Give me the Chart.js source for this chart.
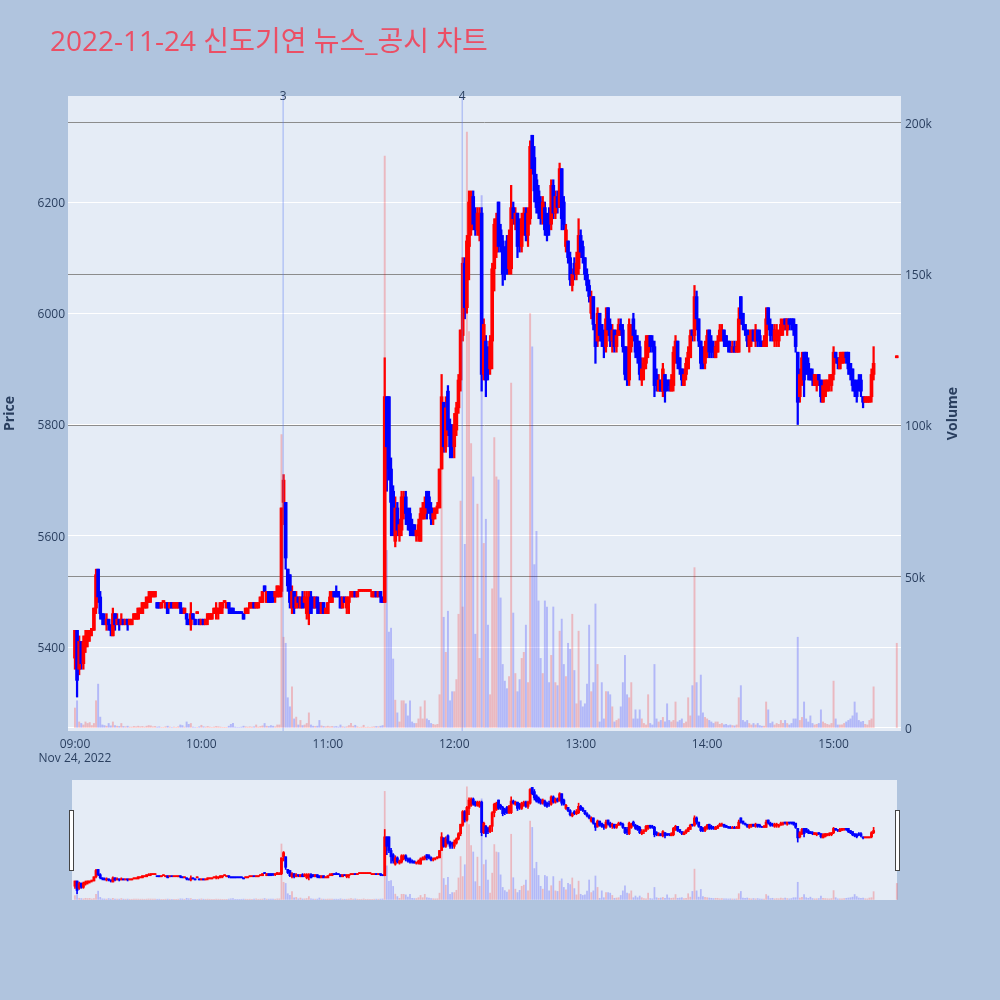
<!DOCTYPE html>
<html><head><meta charset="utf-8">
<script src="https://cdn.jsdelivr.net/npm/chart.js@4.4.0/dist/chart.umd.min.js"></script>
<style>
html,body{margin:0;padding:0;background:#b0c4de;}
#wrap{position:relative;width:1000px;height:1000px;overflow:hidden;}
#main{position:absolute;left:0;top:0;}
#mini{position:absolute;left:68px;top:780px;}
</style></head><body>
<div id="wrap"><canvas id="main" width="1000" height="1000"></canvas><canvas id="mini" width="833" height="120"></canvas></div>
<script>
const chartTitle = '2022-11-24 신도기연 뉴스_공시 차트';
const hourTicks = [0, 60, 120, 180, 240, 300, 360];           // minutes after 09:00
const hourLabels = [['09:00', 'Nov 24, 2022'], '10:00', '11:00', '12:00', '13:00', '14:00', '15:00'];
const priceTicks = [5400, 5600, 5800, 6000, 6200];
const volumeTicks = [0, 50000, 100000, 150000, 200000];
const volumeTickLabels = ['0', '50k', '100k', '150k', '200k'];
const eventTimes = ['10:38:48', '12:03:48'];
const eventLabels = ['3', '4'];

// one candle per minute, index = minutes after 09:00 (null = no trade)
const opens = [
5380,5430,5360,5410,5370,5400,5410,5420,5430,5430,
5470,5540,5490,5460,5450,5440,5450,5440,5420,5460,
5440,5450,5440,5450,5440,5450,5440,5440,5450,5450,
5450,5460,5460,5470,5470,5480,5490,5490,5490,5480,
5480,5470,5480,5470,5480,5470,5480,5470,5470,5470,
5480,5470,5460,5460,5450,5440,5460,5450,5460,5450,
5440,5450,5440,5450,5450,5450,5460,5460,5460,5460,
5470,5480,5470,5480,5470,5470,5460,5460,5460,5460,
5460,5460,5460,5470,5470,5480,5470,5470,5480,5480,
5510,5480,5500,5500,5500,5490,5490,5490,5500,5660,
5660,5540,5530,5470,5500,5470,5490,5470,5490,5480,
5460,5470,5490,5490,5470,5490,5480,5460,5480,5460,
5460,5480,5480,5500,5500,5500,5490,5470,5490,5470,
5480,5490,5490,5500,5490,5500,5500,5500,5500,5500,
5500,5490,5490,5500,5490,5500,5490,5480,5850,5850,
5720,5680,5590,5650,5600,5610,5640,5670,5640,5640,
5620,5620,5600,5600,5590,5630,5640,5680,5670,5650,
5630,5640,5650,5650,5720,5840,5760,5860,5800,5790,
5760,5790,5830,5880,5960,6090,6010,6120,6150,6210,
6180,6150,6140,6180,5890,5950,5930,5900,5950,6080,
6110,6200,6150,6130,6110,6130,6080,6080,6190,6160,
6180,6160,6120,6150,6180,6140,6170,6320,6280,6240,
6220,6200,6170,6190,6170,6170,6160,6230,6180,6210,
6190,6260,6200,6120,6130,6100,6050,6090,6070,6080,
6140,6120,6100,6070,6050,6000,6030,5980,5950,6000,
5980,5960,5940,6010,5980,5950,5970,5940,5960,5980,
5970,5940,5920,5880,5940,5990,5960,5950,5940,5880,
5900,5910,5930,5960,5950,5940,5890,5860,5880,5860,
5890,5880,5880,5860,5870,5920,5950,5920,5900,5870,
5890,5900,5920,5970,5960,6030,5990,5950,5930,5910,
5930,5970,5950,5940,5920,5930,5950,5960,5970,5960,
5950,5940,5930,5940,5930,5930,6030,6000,5980,5970,
5940,5950,5970,5950,5970,5960,5950,5940,5940,6010,
5980,5970,5950,5960,5950,5960,5970,5990,5970,5990,
5990,5990,5980,5930,5850,5880,5930,5930,5910,5900,
5890,5870,5870,5890,5880,5840,5850,5860,5870,5870,
5890,5930,5920,5900,5910,5920,5930,5930,5910,5900,
5880,5870,5880,5880,5850,5840,5840,5840,5850,5890,
null,null,null,null,null,null,null,null,null,null,
5920];
const highs = [
5430,5430,5420,5410,5420,5430,5430,5430,5430,5470,
5540,5540,5500,5460,5460,5460,5450,5440,5470,5460,
5460,5450,5460,5450,5450,5450,5450,5450,5460,5460,
5470,5470,5480,5480,5490,5500,5500,5500,5500,5480,
5480,5480,5480,5480,5480,5480,5480,5480,5480,5480,
5480,5470,5470,5460,5450,5480,5460,5450,5460,5450,
5450,5450,5450,5460,5460,5460,5470,5480,5470,5480,
5480,5480,5480,5480,5470,5470,5460,5460,5460,5460,
5460,5470,5470,5480,5480,5480,5480,5480,5490,5500,
5510,5500,5500,5500,5500,5500,5510,5510,5650,5710,
5660,5540,5530,5510,5500,5500,5490,5490,5500,5500,
5500,5500,5500,5490,5490,5490,5480,5480,5480,5470,
5480,5500,5500,5500,5510,5500,5490,5490,5490,5490,
5490,5500,5500,5500,5500,5500,5500,5500,5500,5500,
5500,5500,5500,5500,5500,5500,5490,5920,5850,5850,
5740,5690,5670,5660,5630,5680,5680,5680,5650,5650,
5630,5620,5610,5630,5650,5660,5670,5680,5680,5660,
5650,5650,5660,5720,5890,5840,5850,5870,5810,5800,
5820,5840,5890,5970,6100,6100,6140,6220,6220,6220,
6190,6190,6190,6190,5990,5960,5940,5960,6090,6170,
6180,6200,6160,6140,6120,6140,6150,6230,6200,6190,
6180,6170,6180,6190,6190,6190,6310,6320,6300,6250,
6230,6210,6210,6200,6180,6190,6240,6240,6220,6220,
6270,6260,6210,6160,6130,6110,6080,6100,6110,6170,
6150,6130,6100,6080,6060,6040,6030,5980,6010,6000,
5980,5970,6010,6010,5990,5980,5970,5970,5990,5990,
5980,5940,5940,5990,5980,6000,5970,5960,5950,5920,
5920,5960,5960,5960,5960,5950,5900,5890,5880,5910,
5890,5880,5880,5890,5940,5960,5950,5920,5900,5900,
5920,5940,5970,5970,6050,6040,5990,5950,5940,5950,
5970,5970,5960,5950,5950,5960,5980,5980,5970,5960,
5950,5950,5950,5950,5950,6010,6030,6000,5980,5970,
5970,5970,5970,5980,5970,5970,5950,5960,6010,6010,
5990,5980,5980,5980,5970,5990,5990,5990,5990,5990,
5990,5990,5980,5930,5900,5930,5930,5930,5920,5900,
5900,5890,5890,5890,5880,5880,5880,5880,5890,5890,
5940,5930,5920,5930,5930,5930,5930,5930,5910,5900,
5880,5880,5890,5890,5850,5850,5850,5850,5900,5940,
null,null,null,null,null,null,null,null,null,null,
5920];
const lows = [
5360,5310,5350,5360,5360,5390,5400,5410,5420,5430,
5460,5480,5450,5440,5440,5430,5430,5420,5420,5430,
5440,5430,5440,5440,5440,5430,5440,5440,5450,5450,
5450,5460,5460,5470,5470,5480,5480,5490,5490,5470,
5470,5470,5480,5470,5460,5470,5470,5470,5470,5470,
5460,5460,5460,5440,5440,5430,5450,5440,5460,5440,
5440,5440,5440,5440,5450,5450,5460,5450,5450,5460,
5460,5480,5470,5460,5460,5460,5460,5460,5460,5460,
5450,5460,5460,5470,5470,5470,5470,5470,5480,5480,
5500,5480,5480,5480,5480,5480,5490,5490,5490,5620,
5540,5500,5470,5460,5460,5470,5470,5470,5470,5470,
5450,5440,5460,5470,5470,5460,5460,5460,5460,5460,
5460,5480,5480,5490,5490,5490,5470,5470,5480,5460,
5460,5490,5490,5490,5490,5500,5500,5500,5500,5500,
5500,5490,5490,5490,5490,5480,5480,5480,5680,5700,
5600,5600,5580,5600,5590,5600,5630,5620,5610,5600,
5600,5600,5590,5590,5590,5630,5630,5630,5640,5620,
5620,5630,5640,5650,5720,5750,5750,5780,5740,5740,
5740,5780,5820,5860,5950,5990,6000,6060,6140,6150,
6140,6140,6130,5860,5880,5850,5880,5890,5900,6040,
6100,6110,6110,6050,6060,6070,6070,6070,6160,6150,
6100,6110,6110,6140,6130,6120,6160,6250,6200,6180,
6170,6160,6160,6140,6130,6140,6150,6170,6170,6180,
6190,6150,6150,6110,6090,6050,6040,6060,6060,6070,
6100,6090,6060,6040,6020,5990,5970,5910,5940,5950,
5940,5920,5930,5960,5940,5930,5930,5930,5960,5960,
5930,5880,5870,5870,5930,5950,5920,5910,5880,5870,
5880,5900,5920,5930,5930,5850,5860,5860,5860,5850,
5840,5860,5860,5860,5860,5910,5900,5890,5870,5870,
5880,5900,5920,5950,5950,5970,5940,5900,5900,5900,
5920,5920,5920,5920,5920,5930,5950,5950,5940,5940,
5930,5930,5930,5930,5930,5930,5980,5970,5960,5940,
5930,5940,5950,5940,5940,5940,5940,5940,5940,5970,
5950,5950,5940,5940,5940,5960,5960,5970,5960,5970,
5970,5960,5930,5800,5840,5870,5850,5890,5880,5880,
5870,5870,5860,5870,5840,5840,5850,5860,5860,5860,
5880,5910,5900,5900,5910,5910,5910,5890,5880,5860,
5850,5840,5860,5850,5830,5840,5840,5840,5840,5880,
null,null,null,null,null,null,null,null,null,null,
5920];
const closes = [
5430,5340,5410,5370,5410,5420,5430,5430,5430,5470,
5530,5490,5460,5450,5440,5450,5440,5430,5460,5440,
5450,5440,5450,5440,5450,5440,5450,5450,5460,5460,
5470,5470,5480,5480,5490,5490,5500,5500,5500,5470,
5470,5480,5480,5480,5460,5480,5470,5480,5480,5480,
5470,5460,5470,5450,5440,5460,5450,5440,5460,5440,
5450,5440,5450,5460,5460,5460,5470,5470,5470,5480,
5480,5480,5480,5470,5460,5460,5460,5460,5460,5460,
5450,5470,5470,5480,5480,5470,5480,5480,5490,5500,
5500,5500,5480,5480,5490,5500,5510,5500,5650,5700,
5560,5510,5480,5500,5470,5490,5480,5490,5470,5490,
5490,5490,5460,5470,5490,5470,5460,5480,5460,5470,
5480,5490,5500,5490,5490,5490,5470,5490,5480,5490,
5490,5500,5500,5490,5500,5500,5500,5500,5500,5500,
5500,5500,5500,5490,5500,5490,5480,5850,5760,5720,
5660,5620,5650,5610,5620,5670,5670,5640,5620,5610,
5610,5600,5610,5620,5640,5650,5660,5650,5650,5630,
5640,5650,5650,5720,5850,5760,5830,5790,5760,5780,
5800,5830,5880,5970,6090,6010,6130,6200,6210,6160,
6150,6180,6180,5890,5980,5880,5900,5950,6080,6160,
6170,6120,6130,6070,6080,6080,6140,6190,6170,6180,
6120,6130,6170,6180,6140,6180,6300,6260,6220,6190,
6180,6170,6200,6150,6140,6160,6230,6180,6210,6190,
6260,6170,6160,6150,6100,6060,6070,6070,6090,6140,
6110,6100,6070,6050,6030,6030,5980,5940,6000,5960,
5950,5940,5990,5970,5950,5970,5940,5960,5980,5970,
5940,5890,5890,5980,5970,5960,5930,5920,5890,5900,
5910,5950,5960,5940,5940,5870,5870,5880,5860,5900,
5860,5870,5870,5880,5930,5950,5910,5900,5880,5890,
5910,5930,5960,5960,6030,5990,5950,5910,5910,5940,
5960,5930,5930,5930,5940,5950,5970,5970,5950,5940,
5940,5930,5940,5930,5940,5990,5990,5980,5970,5950,
5960,5970,5950,5970,5950,5950,5940,5950,5990,5980,
5960,5960,5970,5970,5960,5980,5980,5980,5990,5980,
5980,5970,5940,5840,5890,5920,5880,5900,5890,5880,
5880,5890,5880,5880,5850,5870,5880,5880,5880,5890,
5930,5920,5910,5920,5930,5930,5920,5900,5890,5870,
5860,5850,5870,5860,5840,5850,5850,5850,5890,5910,
null,null,null,null,null,null,null,null,null,null,
5920];
const volumes = [
6600,9000,2000,1500,1000,2000,1500,1800,800,1500,
9000,14500,3600,1000,800,600,1500,700,2000,800,
600,500,1500,500,400,600,300,300,500,400,
600,400,500,300,600,800,700,400,500,300,
400,200,200,400,600,300,200,300,200,400,
1000,800,300,2000,1200,1500,300,200,200,400,
900,400,300,500,300,200,300,500,400,300,
200,100,200,600,1200,1500,300,200,200,300,
600,400,300,400,300,400,1000,300,500,700,
1500,600,500,800,600,400,1000,1000,97000,30000,
28000,10000,7000,13600,3000,3600,1000,2500,800,1000,
1500,5000,1000,600,500,600,2500,700,500,400,
600,400,500,400,500,300,1000,400,300,400,
800,1500,600,900,400,200,300,900,200,300,
200,300,400,500,400,600,800,189000,58700,31700,
33000,22800,9200,5000,2000,9000,9000,8000,4000,9000,
2000,1500,1500,3000,7000,3000,9000,3000,2500,1500,
1200,1000,1200,11000,95000,36600,25000,38600,9000,12000,
12000,16000,37600,75000,40000,60700,197000,131000,94000,83000,
31000,74000,23000,176000,61000,69000,34000,11000,46000,96000,
83000,82000,43000,21000,15500,13000,17000,114000,38000,18000,
12000,16000,23000,25000,34000,15000,137000,126000,54000,65000,
42000,23000,18000,42000,40000,15000,24000,40000,15000,14000,
32000,36000,21000,17000,28000,26000,37600,19000,8000,32000,
9000,7000,8000,14500,34000,12000,15000,41000,21000,2000,
15000,3000,12000,12000,11000,7000,2000,2500,3000,7000,
15000,24000,11000,10000,15000,3000,6000,3000,6000,3000,
1500,1000,11000,1500,1000,21000,3000,2000,2500,3500,
2000,8000,2500,2000,2500,8600,2000,2500,3000,1500,
2000,10000,4000,14000,53000,15000,4000,17500,5000,3500,
3000,2500,2000,1500,2000,2000,1200,1500,1000,1200,
800,1000,800,700,1000,10000,14000,2500,2000,2500,
1500,1000,1500,1000,1500,800,600,600,8600,6000,
1500,2000,1000,1500,1200,2500,1500,2500,1500,1000,
1500,3000,3000,30000,2500,3500,8600,3000,2000,4000,
1500,1000,1200,1500,6000,2000,1500,1200,1000,1500,
15500,3000,1000,1000,1000,1500,2000,2500,3000,4000,
8600,5000,2500,2000,2200,1200,1000,2500,3000,13600,
null,null,null,null,null,null,null,null,null,null,
28000];

const UP = '#ff0000', DOWN = '#0000ff';
const UP_VOL = 'rgba(255,0,0,0.22)', DOWN_VOL = 'rgba(0,0,255,0.22)';
const FONT = "'Open Sans', 'Noto Sans CJK KR', sans-serif";
const TXT = '#2a3f5f';

function tMin(s) { const p = s.split(':').map(Number); return (p[0] - 9) * 60 + p[1] + (p[2] || 0) / 60; }

// direction: close>open up, close<open down, equal -> vs previous close, else keep previous
const dirs = []; let prevClose = null, inc = true;
for (let i = 0; i < opens.length; i++) {
  if (opens[i] == null) { dirs.push(null); continue; }
  const o = opens[i], c = closes[i];
  if (c === o) { if (prevClose !== null && c !== prevClose) inc = c > prevClose; }
  else inc = c > o;
  prevClose = c; dirs.push(inc);
}

function buildSets(mini) {
  const body = [], wick = [], vol = [], bc = [], vc = [];
  for (let i = 0; i < opens.length; i++) {
    if (dirs[i] === null) continue;
    const o = opens[i], c = closes[i];
    body.push({x: i, y: [Math.min(o, c), Math.max(o, c)]});
    wick.push({x: i, y: [lows[i], highs[i]]});
    vol.push({x: i, y: volumes[i]});
    bc.push(dirs[i] ? UP : DOWN);
    vc.push(dirs[i] ? UP_VOL : DOWN_VOL);
  }
  return [
    {label: 'body', data: body, backgroundColor: bc, barThickness: mini ? 2.2 : 3, minBarLength: mini ? 1 : 2, grouped: false, yAxisID: 'y', order: 0},
    {label: 'wick', data: wick, backgroundColor: bc, barThickness: mini ? 1 : 1.6, minBarLength: mini ? 1 : 2, grouped: false, yAxisID: 'y', order: 1},
    {label: 'Volume', data: vol, backgroundColor: vc, barThickness: mini ? 1.1 : 1.3, grouped: false, yAxisID: 'y1', order: 2}
  ];
}

const X_MIN = -3.3, X_MAX = 392;
const P_MIN = 5249, P_MAX = 6390.6;
const V_MIN = -1000, V_MAX = 208900;

const mainDeco = {
  id: 'mainDeco',
  beforeDraw(chart) {
    const {ctx, chartArea: a} = chart;
    ctx.save(); ctx.fillStyle = '#e5ecf6';
    ctx.fillRect(a.left, a.top, a.right - a.left, a.bottom - a.top); ctx.restore();
  },
  afterDatasetsDraw(chart) {
    const {ctx, chartArea: a, scales: {x}} = chart;
    ctx.save();
    eventTimes.forEach((t, i) => {
      const px = x.getPixelForValue(tMin(t));
      ctx.strokeStyle = 'rgba(90,120,240,0.35)'; ctx.lineWidth = 1.5;
      ctx.beginPath(); ctx.moveTo(px, a.top); ctx.lineTo(px, a.bottom); ctx.stroke();
      ctx.fillStyle = TXT; ctx.font = "12px " + FONT;
      ctx.textAlign = 'center'; ctx.textBaseline = 'middle';
      ctx.fillText(eventLabels[i], px, a.top + 1);
    });
    ctx.restore();
  },
  afterDraw(chart) {
    const {ctx, chartArea: a} = chart;
    ctx.save();
    ctx.fillStyle = '#eb4f65'; ctx.font = "28px " + FONT;
    ctx.textAlign = 'left'; ctx.textBaseline = 'alphabetic';
    ctx.fillText(chartTitle, 50, 51);
    ctx.fillStyle = TXT; ctx.font = "bold 14px " + FONT;
    ctx.textAlign = 'center'; ctx.textBaseline = 'middle';
    const cy = (a.top + a.bottom) / 2;
    ctx.translate(10, cy); ctx.rotate(-Math.PI / 2); ctx.fillText('Price', 0, 0);
    ctx.setTransform(1, 0, 0, 1, 0, 0);
    ctx.translate(953, cy); ctx.rotate(-Math.PI / 2); ctx.fillText('Volume', 0, 0);
    ctx.restore();
  }
};

new Chart(document.getElementById('main'), {
  type: 'bar',
  data: {datasets: buildSets(false)},
  plugins: [mainDeco],
  options: {
    responsive: false, animation: false, devicePixelRatio: 1,
    layout: {padding: {top: 96, bottom: 229, left: 0, right: 0}},
    plugins: {legend: {display: false}, tooltip: {enabled: false}, title: {display: false}},
    scales: {
      x: {
        type: 'linear', min: X_MIN, max: X_MAX, offset: false,
        grid: {display: false, offset: false, drawTicks: false}, border: {display: false},
        afterBuildTicks: s => { s.ticks = hourTicks.map(v => ({value: v})); },
        ticks: {autoSkip: false, maxRotation: 0, minRotation: 0, padding: 6, color: TXT,
          font: {family: FONT, size: 12}, callback: (v, i) => hourLabels[i]},
        afterFit: s => { s.height = 40; }
      },
      y: {
        position: 'left', min: P_MIN, max: P_MAX,
        grid: {color: '#ffffff', lineWidth: 1, drawTicks: false}, border: {display: false},
        afterBuildTicks: s => { s.ticks = priceTicks.map(v => ({value: v})); },
        ticks: {padding: 3, labelOffset: 1.5, color: TXT, font: {family: FONT, size: 12}, callback: v => String(v)},
        afterFit: s => { s.width = 68; }
      },
      y1: {
        position: 'right', min: V_MIN, max: V_MAX,
        grid: {color: c => (c.tick && c.tick.value === 0) ? '#ffffff' : '#8c8c8c', lineWidth: 1, drawTicks: false},
        border: {display: false},
        afterBuildTicks: s => { s.ticks = volumeTicks.map(v => ({value: v})); },
        ticks: {padding: 4, labelOffset: 1.5, color: TXT, font: {family: FONT, size: 12},
          callback: (v, i) => volumeTickLabels[i]},
        afterFit: s => { s.width = 99; }
      }
    }
  }
});

const miniDeco = {
  id: 'miniDeco',
  beforeDraw(chart) {
    const {ctx, chartArea: a} = chart;
    ctx.save(); ctx.fillStyle = '#e5ecf6';
    ctx.fillRect(a.left + 4, a.top, a.right - a.left - 8, a.bottom - a.top); ctx.restore();
  },
  afterDraw(chart) {
    const {ctx, chartArea: a} = chart;
    ctx.save();
    ctx.fillStyle = '#ffffff'; ctx.strokeStyle = '#444444'; ctx.lineWidth = 1;
    [a.left + 1.5, a.right - 5.5].forEach(hx => {
      ctx.fillRect(hx, a.top + 30.5, 4, 60);
      ctx.strokeRect(hx, a.top + 30.5, 4, 60);
    });
    ctx.restore();
  }
};

new Chart(document.getElementById('mini'), {
  type: 'bar',
  data: {datasets: buildSets(true)},
  plugins: [miniDeco],
  options: {
    responsive: false, animation: false, devicePixelRatio: 1,
    layout: {padding: 0},
    plugins: {legend: {display: false}, tooltip: {enabled: false}},
    scales: {
      x: {type: 'linear', min: X_MIN, max: X_MAX, offset: false, display: false},
      y: {min: P_MIN, max: P_MAX, display: false},
      y1: {position: 'right', min: V_MIN, max: V_MAX, display: false}
    }
  }
});
</script>
</body></html>
